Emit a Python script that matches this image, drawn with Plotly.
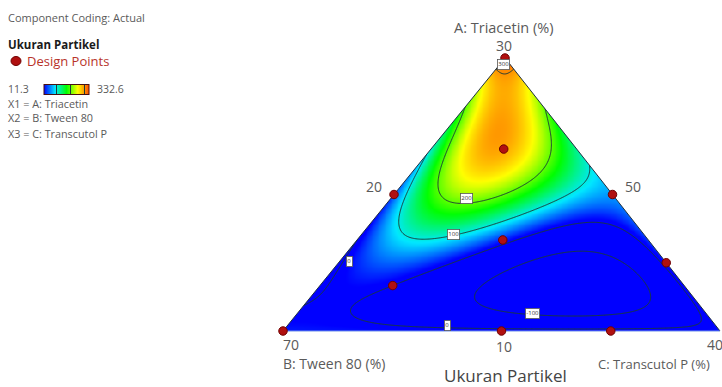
import numpy as np
import plotly.graph_objects as go

# ---- mixture components (actual %, constrained region) ----
comp_names = ["A: Triacetin", "B: Tween 80", "C: Transcutol P"]
comp_low = [10, 50, 20]
comp_high = [30, 70, 40]

# ---- design points (actual %) ----
design_A = [30, 23.33, 20, 20, 16.67, 13.33, 10, 10, 10, 15]
design_B = [50, 53.33, 60, 50, 56.67, 63.33, 70, 60, 55, 50]
design_C = [20, 23.33, 20, 30, 26.67, 23.33, 20, 30, 35, 35]

# observed response range (particle size)
resp_min = 11.3
resp_max = 332.6

# ---- fitted mixture model (L-pseudo components) ----
model_terms = ["A", "B", "C", "AB", "AC", "BC", "AB(A-B)", "AC(A-C)", "BC(B-C)",
               "A2BC", "AB2C", "ABC2"]
model_coef = [332.6, 20.0, 15.0, -545.0, -435.2, 10.0, 43.0, -76.8, -20.0,
              18540.0, 265.0, -18378.0]

# contour levels and where their value tags sit (pixel positions)
contour_levels = [-100, 0, 100, 200, 300]
level_tags = [(300, 503, 64), (200, 466, 198), (100, 453, 234),
              (0, 349, 261), (0, 448, 325), (-100, 532, 313)]

W, H = 722, 387
# pixel frame of the simplex
X0_PX, X1_PX, BASE_PX, APEX_PX = 283.0, 720.0, 331.0, 58.0
APEX_SHIFT = 0.508


def predict(a, b, c):
    k = dict(zip(model_terms, model_coef))
    return (k["A"] * a + k["B"] * b + k["C"] * c
            + k["AB"] * a * b + k["AC"] * a * c + k["BC"] * b * c
            + k["AB(A-B)"] * a * b * (a - b)
            + k["AC(A-C)"] * a * c * (a - c)
            + k["BC(B-C)"] * b * c * (b - c)
            + k["A2BC"] * a * a * b * c + k["AB2C"] * a * b * b * c
            + k["ABC2"] * a * b * c * c)


def pseudo(vals, i):
    return (np.asarray(vals, float) - comp_low[i]) / (comp_high[i] - comp_low[i])


def to_xy(a, b, c):
    return c + APEX_SHIFT * a, a


# ---- response surface on a grid covering the simplex ----
xs = np.linspace(-0.01, 1.01, 520)
ys = np.linspace(-0.01, 1.005, 330)
XX, YY = np.meshgrid(xs, ys)
ga = YY
gc = XX - APEX_SHIFT * ga
gb = 1 - ga - gc
Z = np.clip(predict(ga, gb, gc), -300, 500)

de_scale = [[0.0, "#0000ff"], [0.25, "#00e8ff"], [0.5, "#00ff00"],
            [0.75, "#ffff00"], [1.0, "#ff4a00"]]

fig = go.Figure()
fig.add_trace(go.Contour(
    x=xs, y=ys, z=Z,
    colorscale=de_scale, zmin=resp_min, zmax=resp_max, zauto=False,
    autocontour=False,
    contours=dict(coloring="heatmap", start=contour_levels[0],
                  end=contour_levels[-1], size=100, showlabels=False),
    line=dict(color="#1d3b38", width=1),
    colorbar=dict(orientation="h", x=66.5 / W, xanchor="center",
                  y=1 - 89.5 / H, yanchor="middle", len=45, lenmode="pixels",
                  thickness=10, showticklabels=False, ticks="",
                  outlinewidth=1, outlinecolor="#4a1010", xpad=0, ypad=0),
    hoverinfo="skip", showlegend=False,
))

# white masks outside the triangle
ax_, ay_ = to_xy(1, 0, 0)
for poly_x, poly_y in [
    ([-1, 0, ax_, ax_, -1], [0, 0, ay_, 2, 2]),
    ([1, 2, 2, ax_, ax_], [0, 0, 2, 2, ay_]),
    ([-1, 2, 2, -1], [0, 0, -1, -1]),
]:
    fig.add_trace(go.Scatter(x=poly_x, y=poly_y, fill="toself", mode="none",
                             fillcolor="white", hoverinfo="skip", showlegend=False))

# triangle outline
tx = [to_xy(1, 0, 0)[0], to_xy(0, 1, 0)[0], to_xy(0, 0, 1)[0], to_xy(1, 0, 0)[0]]
ty = [1, 0, 0, 1]
fig.add_trace(go.Scatter(x=tx[:2] + [None] + [tx[2], tx[3]], y=ty[:2] + [None] + [ty[2], ty[3]],
                         mode="lines", line=dict(color="#203040", width=1),
                         hoverinfo="skip", showlegend=False))
fig.add_trace(go.Scatter(x=tx[1:3], y=ty[1:3], mode="lines",
                         line=dict(color="#6f8fe8", width=1.2),
                         hoverinfo="skip", showlegend=False))

# design points
PT_FILL, PT_EDGE = "#b01010", "#700000"
pa, pb, pc = pseudo(design_A, 0), pseudo(design_B, 1), pseudo(design_C, 2)
dx, dy = to_xy(pa, pb, pc)
fig.add_trace(go.Scatter(
    x=dx, y=dy, mode="markers", name="Design Points",
    marker=dict(size=8.5, color=PT_FILL, line=dict(color=PT_EDGE, width=1)),
    hoverinfo="skip", showlegend=False,
))

GRAY = "#5a5a5a"


def txt(px, py, s, size=10, color=GRAY, anchor="left", bold=False):
    return dict(x=px / W, y=1 - py / H, xref="paper", yref="paper", text=f"<b>{s}</b>" if bold else s,
                showarrow=False, xanchor=anchor, yanchor="middle",
                font=dict(size=size, color=color, family="Open Sans"))


ann = [
    txt(6, 17, "Component Coding: Actual", 11),
    txt(6, 45, "Ukuran Partikel", 11.5, "#1a1a1a", bold=True),
    txt(25, 61, "Design Points", 13, "#b8332a"),
    txt(6, 89, f"{resp_min}", 10.5),
    txt(95, 89, f"{resp_max}", 10.5),
    txt(6, 103, f"X1 = {comp_names[0]}", 10.8),
    txt(6, 118, f"X2 = {comp_names[1]}", 10.8),
    txt(6, 133, f"X3 = {comp_names[2]}", 10.8),
    txt(504, 27.5, f"{comp_names[0]} (%)", 14.5, anchor="center"),
    txt(504, 45.5, f"{comp_high[0]}", 14, anchor="center"),
    txt(374, 186, f"{comp_low[2]}", 14, anchor="center"),
    txt(633, 186, f"{comp_low[1]}", 14, anchor="center"),
    txt(281, 344.5, f"{comp_high[1]}", 14),
    txt(504, 346, f"{comp_low[0]}", 14, anchor="center"),
    txt(705, 344.5, f"{comp_high[2]}", 14),
    txt(281, 363.5, f"{comp_names[1]} (%)", 14),
    txt(596, 363.5, f"{comp_names[2]} (%)", 13),
    txt(505, 375.5, "Ukuran Partikel", 17, "#444444", anchor="center"),
]

# boxed value tags on the contour lines
for lvl, px, py in level_tags:
    ann.append(dict(x=px / W, y=1 - py / H, xref="paper", yref="paper", text=str(lvl),
                    showarrow=False, xanchor="center", yanchor="middle",
                    font=dict(size=6, color="#333333", family="Open Sans"),
                    bgcolor="white", bordercolor="#555555", borderwidth=0.8, borderpad=0.5))

# legend symbol for the design points
shapes = [dict(type="circle", xref="paper", yref="paper",
               xsizemode="pixel", ysizemode="pixel",
               xanchor=16 / W, yanchor=1 - 61 / H, x0=-5, x1=5, y0=-4.5, y1=4.5,
               fillcolor=PT_FILL, line=dict(color=PT_EDGE, width=1))]

fig.update_layout(
    width=W, height=H, margin=dict(l=0, r=0, t=0, b=0, autoexpand=False),
    paper_bgcolor="white", plot_bgcolor="white",
    xaxis=dict(range=[-X0_PX / (X1_PX - X0_PX), (W - X0_PX) / (X1_PX - X0_PX)],
               visible=False, fixedrange=True),
    yaxis=dict(range=[(BASE_PX - H) / (BASE_PX - APEX_PX), BASE_PX / (BASE_PX - APEX_PX)],
               visible=False, fixedrange=True),
    showlegend=False,
    annotations=ann,
    shapes=shapes,
)

fig.write_html("out.html")
